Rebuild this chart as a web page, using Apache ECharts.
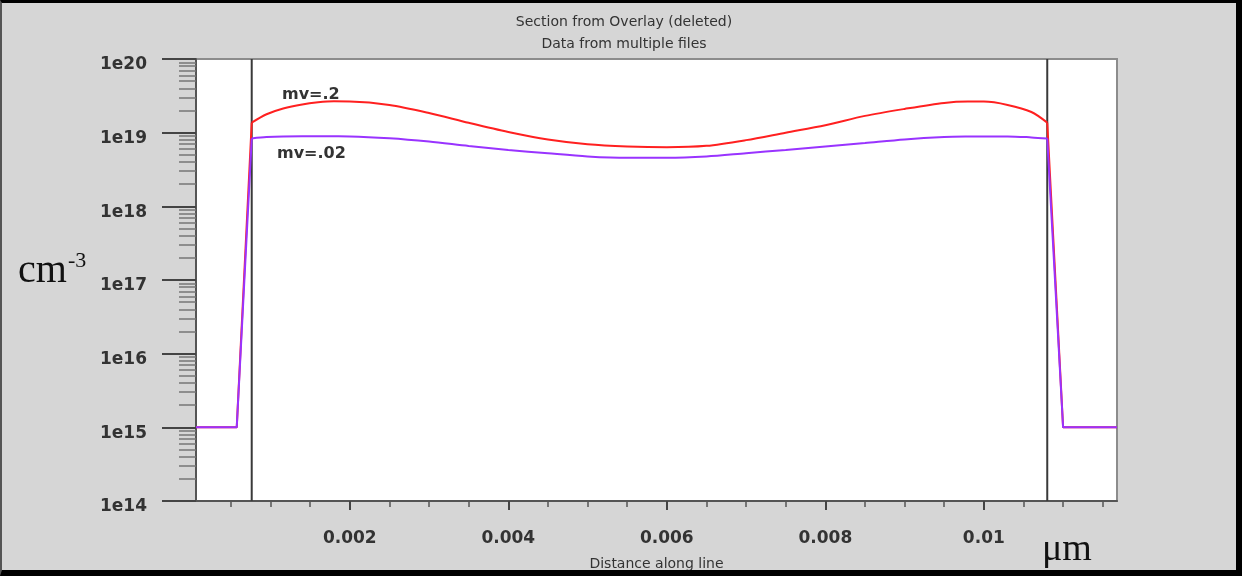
<!DOCTYPE html>
<html><head><meta charset="utf-8">
<script src="https://cdn.jsdelivr.net/npm/echarts@6/dist/echarts.min.js"></script>
<style>
html,body{margin:0;padding:0;background:#d6d6d6;}
#wrap{position:relative;width:1242px;height:576px;overflow:hidden;}
#chart{position:absolute;left:0;top:0;width:1242px;height:576px;}
#frame{position:absolute;left:0;top:0;width:1242px;height:576px;box-sizing:border-box;border-top:3px solid #000;border-right:6px solid #000;border-bottom:6px solid #000;border-left:2px solid #555;pointer-events:none;}
</style></head>
<body><div id="wrap"><div id="chart"></div><div id="frame"></div></div>
<script>
// distance along line (same units as the axis)
const distance = [0.00006, 0.000574, 0.000763, 0.00095, 0.00116, 0.0014, 0.0016, 0.0018, 0.0020, 0.0025, 0.0030, 0.0035, 0.0040, 0.0045,
  0.0050, 0.0055, 0.0060, 0.0065, 0.0070, 0.0075, 0.0080, 0.0085, 0.0090, 0.0095, 0.0098, 0.0100,
  0.0103, 0.0106, 0.0108, 0.0110, 0.01168];
// mv=.2 (red)
const mv2 = [1e15, 1e15, 1.37e19, 1.78e19, 2.13e19, 2.42e19, 2.58e19, 2.66e19, 2.65e19, 2.38e19, 1.85e19, 1.36e19, 1.02e19, 8.05e18,
  6.95e18, 6.49e18, 6.33e18, 6.62e18, 7.92e18, 1.0e19, 1.26e19, 1.69e19, 2.10e19, 2.53e19, 2.64e19, 2.64e19,
  2.38e19, 1.91e19, 1.37e19, 1e15, 1e15];
// mv=.02 (purple)
const mv02 = [1e15, 1e15, 8.36e18, 8.7e18, 8.9e18, 8.95e18, 8.95e18, 8.93e18, 8.9e18, 8.4e18, 7.57e18, 6.59e18, 5.82e18, 5.24e18,
  4.76e18, 4.55e18, 4.55e18, 4.75e18, 5.26e18, 5.82e18, 6.47e18, 7.23e18, 8.1e18, 8.73e18, 8.88e18, 8.9e18,
  8.9e18, 8.63e18, 8.36e18, 1e15, 1e15];
const boundaries = [0.000763, 0.0108];
const xTickValues = [0.002, 0.004, 0.006, 0.008, 0.01];
const yExponents = [14, 15, 16, 17, 18, 19, 20];
const xRange = [0.00006, 0.01168];

const xMinor = [];
for (let k = 1; k <= 23; k++) { const v = Math.round(k * 5) / 10000; if (k % 4 !== 0) xMinor.push(v); }
const yMinor = [];
for (let i = 0; i < yExponents.length - 1; i++) for (let k = 2; k <= 9; k++) yMinor.push(yExponents[i] + Math.log10(k));
const yMin = Math.pow(10, yExponents[0]), yMax = Math.pow(10, yExponents[yExponents.length - 1]);

// channel between the two boundaries is drawn smooth, the abrupt edges straight
const iL = distance.indexOf(boundaries[0]), iR = distance.indexOf(boundaries[1]);
function pieces(name, vals, color, z) {
  const pts = distance.map((d, i) => [d, vals[i]]);
  const base = {type: 'line', xAxisIndex: 0, yAxisIndex: 0, showSymbol: false, symbol: 'none',
    lineStyle: {color: color, width: 2}, itemStyle: {color: color}, z: z, name: name};
  return [
    Object.assign({}, base, {smooth: false, data: pts.slice(0, iL + 1)}),
    Object.assign({}, base, {smooth: 0.3, data: pts.slice(iL, iR + 1)}),
    Object.assign({}, base, {smooth: false, data: pts.slice(iR)})
  ];
}

const FONT = 'DejaVu Sans';
const chart = echarts.init(document.getElementById('chart'), null, {renderer: 'canvas'});
const boundarySeries = boundaries.map(b => ({
  type: 'line', xAxisIndex: 0, yAxisIndex: 0, showSymbol: false, symbol: 'none', silent: true,
  lineStyle: {color: '#3a3a3a', width: 2}, data: [[b, yMin], [b, yMax]], z: 1
}));
chart.setOption({
  animation: false,
  backgroundColor: 'transparent',
  title: {
    text: 'Section from Overlay (deleted)\nData from multiple files',
    left: 619, top: 6, textAlign: 'center',
    textStyle: {fontFamily: FONT, fontSize: 14, fontWeight: 'normal', color: '#333', lineHeight: 22}
  },
  grid: {left: 196, top: 59, width: 921, height: 447, show: true, backgroundColor: '#fff', borderColor: '#8c8c8c', borderWidth: 2},
  xAxis: [{
    type: 'value', min: xRange[0], max: xRange[1], position: 'bottom',
    name: 'Distance along line', nameLocation: 'middle', nameGap: 56,
    nameTextStyle: {fontFamily: FONT, fontSize: 14, color: '#333'},
    axisLine: {show: true, lineStyle: {color: '#555', width: 2}},
    axisTick: {show: true, customValues: xTickValues, length: 9, lineStyle: {color: '#444', width: 2}},
    axisLabel: {customValues: xTickValues, margin: 29, fontFamily: FONT, fontSize: 17, fontWeight: 'bold', color: '#333'},
    splitLine: {show: false}
  }, {
    type: 'value', min: xRange[0], max: xRange[1], position: 'bottom', gridIndex: 0,
    axisLine: {show: false},
    axisTick: {show: true, customValues: xMinor, length: 6, lineStyle: {color: '#555', width: 1.5}},
    axisLabel: {show: false}, splitLine: {show: false}
  }],
  yAxis: [{
    type: 'log', logBase: 10, min: yMin, max: yMax,
    position: 'left',
    axisLine: {show: true, lineStyle: {color: '#555', width: 2}},
    axisTick: {show: true, length: 34, lineStyle: {color: '#444', width: 2}},
    axisLabel: {margin: 49, verticalAlign: 'top', lineHeight: 12, fontFamily: FONT, fontSize: 17, fontWeight: 'bold', color: '#333',
      formatter: v => '1e' + Math.round(Math.log10(v))},
    splitLine: {show: false}, minorTick: {show: false}
  }, {
    type: 'value', min: yExponents[0], max: yExponents[yExponents.length - 1], position: 'left', gridIndex: 0,
    axisLine: {show: false},
    axisTick: {show: true, customValues: yMinor, length: 17, lineStyle: {color: '#777', width: 1.5}},
    axisLabel: {show: false}, splitLine: {show: false}
  }],
  series: boundarySeries
    .concat(pieces('mv=.2', mv2, '#ff2020', 2))
    .concat(pieces('mv=.02', mv02, '#9933ff', 3)),
  graphic: [
    {type: 'text', left: 282, top: 87, style: {text: 'mv=.2', font: 'bold 16px "DejaVu Sans"', fill: '#333'}},
    {type: 'text', left: 277, top: 146, style: {text: 'mv=.02', font: 'bold 16px "DejaVu Sans"', fill: '#333'}},
    {type: 'text', left: 18, top: 251, style: {text: 'cm', font: '40px "Liberation Serif"', fill: '#111'}},
    {type: 'text', left: 68, top: 250, style: {text: '-3', font: '22px "Liberation Serif"', fill: '#111'}},
    {type: 'text', left: 1042, top: 531, style: {text: 'μm', font: '38px "Liberation Serif"', fill: '#111'}}
  ]
});
</script>
</body></html>
